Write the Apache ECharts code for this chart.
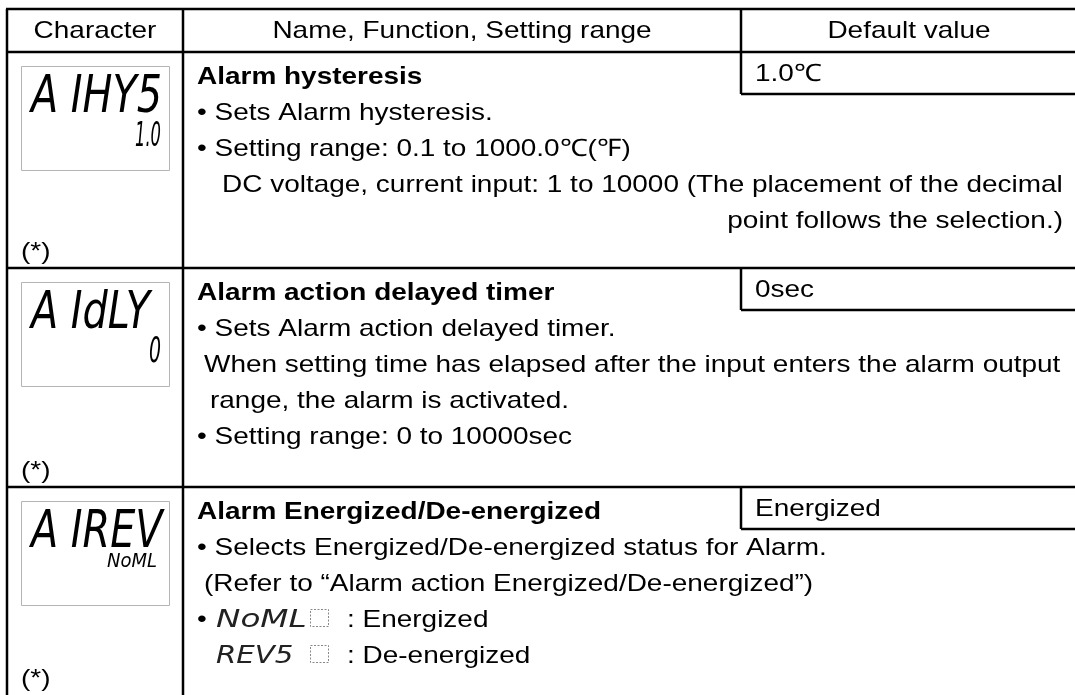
<!DOCTYPE html>
<html>
<head>
<meta charset="utf-8">
<script src="https://cdn.jsdelivr.net/npm/echarts@6/dist/echarts.min.js"></script>
<style>
html,body{margin:0;padding:0;background:#fff;}
#chart{width:1075px;height:695px;}
</style>
</head>
<body>
<div id="chart"></div>
<script>
// ---- table content ----
const headers = ['Character', 'Name, Function, Setting range', 'Default value'];
const lcdMain = ['A IHY5', 'A IdLY', 'A IREV'];
const lcdSub = ['1.0', '0', 'NoML'];
const itemNames = ['Alarm hysteresis', 'Alarm action delayed timer', 'Alarm Energized/De-energized'];
const defaultValues = ['1.0℃', '0sec', 'Energized'];
const notes = ['(*)', '(*)', '(*)'];
const row1Lines = [
  '• Sets Alarm hysteresis.',
  '• Setting range: 0.1 to 1000.0℃(℉)',
  'DC voltage, current input: 1 to 10000 (The placement of the decimal',
  'point follows the selection.)'
];
const row2Lines = [
  '• Sets Alarm action delayed timer.',
  'When setting time has elapsed after the input enters the alarm output',
  'range, the alarm is activated.',
  '• Setting range: 0 to 10000sec'
];
const row3Lines = [
  '• Selects Energized/De-energized status for Alarm.',
  '(Refer to “Alarm action Energized/De-energized”)'
];
const optionCodes = ['NoML', 'REV5'];
const optionLabels = [': Energized', ': De-energized'];

// ---- layout ----
const L = 7, C1 = 183, C2 = 741, R = 1077;
const TOP = 9, HB = 52;
const rowTops = [52, 268, 487];
const rowBottoms = [268, 487, 700];
const LH = 36;
const FS = 24, SX = 1.165;
const FF = '"Liberation Sans", Arial, sans-serif';
const LCDF = '"Liberation Sans Narrow", "DejaVu Sans Condensed", sans-serif';
const BW = 2.5;

const g = [];
function line(x1, y1, x2, y2, w) {
  g.push({type: 'line', shape: {x1, y1, x2, y2}, style: {stroke: '#000', lineWidth: w || BW}, z: 10});
}
function text(t, x, y, opt) {
  opt = opt || {};
  g.push({
    type: 'text', x, y,
    scaleX: opt.sx || SX, scaleY: opt.sy || 1,
    style: {
      text: t, fill: opt.fill || '#000',
      fontSize: opt.fs || FS, fontFamily: opt.ff || FF,
      fontWeight: opt.fw || 'normal', fontStyle: opt.fst || 'normal',
      align: opt.align || 'left', verticalAlign: 'middle'
    }, z: 5
  });
}

// outer / grid lines
line(L - 1, TOP, R, TOP);
line(L, TOP, L, 700);
line(C1, TOP, C1, 700);
line(C2, TOP, C2, HB);
line(L - 1, HB, R, HB);
rowBottoms.slice(0, 2).forEach(y => line(L - 1, y, R, y));

// header
text(headers[0], (L + C1) / 2, 31, {align: 'center'});
text(headers[1], (C1 + C2) / 2, 31, {align: 'center'});
text(headers[2], (C2 + R) / 2, 31, {align: 'center'});

// rows
rowTops.forEach((t, i) => {
  line(C2, t, C2, t + 42);
  line(C2, t + 42, R, t + 42);
  text(defaultValues[i], 755, t + 22);
  text(itemNames[i], 197, t + 25, {fw: 'bold'});
  g.push({type: 'rect', shape: {x: 21.5, y: t + 14.5, width: 148, height: 104},
    style: {fill: '#fff', stroke: '#b4b4b4', lineWidth: 1}, z: 3});
  text(lcdMain[i], 31, t + 46, {fs: 52, ff: LCDF, fst: 'italic', sx: 0.85});
  const noteY = i < 2 ? rowBottoms[i] - 16 : 679;
  text(notes[i], 21, noteY);
});

// LCD sub values
text(lcdSub[0], 161, rowTops[0] + 85, {fs: 33, ff: LCDF, fst: 'italic', align: 'right', sx: 0.55});
text(lcdSub[1], 161, rowTops[1] + 85, {fs: 35, ff: LCDF, fst: 'italic', align: 'right', sx: 0.6});
text(lcdSub[2], 157, rowTops[2] + 75, {fs: 20, ff: LCDF, fst: 'italic', align: 'right', sx: 1.0});

// row 1 description
text(row1Lines[0], 197, rowTops[0] + 25 + LH);
text(row1Lines[1], 197, rowTops[0] + 25 + LH * 2);
text(row1Lines[2], 222, rowTops[0] + 25 + LH * 3);
text(row1Lines[3], 1063, rowTops[0] + 25 + LH * 4, {align: 'right'});

// row 2 description
text(row2Lines[0], 197, rowTops[1] + 25 + LH);
text(row2Lines[1], 204, rowTops[1] + 25 + LH * 2);
text(row2Lines[2], 210, rowTops[1] + 25 + LH * 3);
text(row2Lines[3], 197, rowTops[1] + 25 + LH * 4);

// row 3 description
text(row3Lines[0], 197, rowTops[2] + 25 + LH);
text(row3Lines[1], 204, rowTops[2] + 25 + LH * 2);
text('•', 197, rowTops[2] + 25 + LH * 3);
optionCodes.forEach((c, k) => {
  const y = rowTops[2] + 25 + LH * (3 + k);
  text(c, 216, y, {fs: 25, ff: LCDF, fst: 'italic', fill: '#222', sx: k === 0 ? 1.45 : 1.3});
  g.push({type: 'rect', shape: {x: 310.5, y: y - 10.5, width: 18, height: 17},
    style: {fill: 'none', stroke: '#888', lineWidth: 1, lineDash: [2, 1.5]}, z: 5});
  text(optionLabels[k], 347, y);
});

const chart = echarts.init(document.getElementById('chart'), null, {renderer: 'canvas'});
chart.setOption({backgroundColor: '#fff', animation: false, graphic: g});
</script>
</body>
</html>
